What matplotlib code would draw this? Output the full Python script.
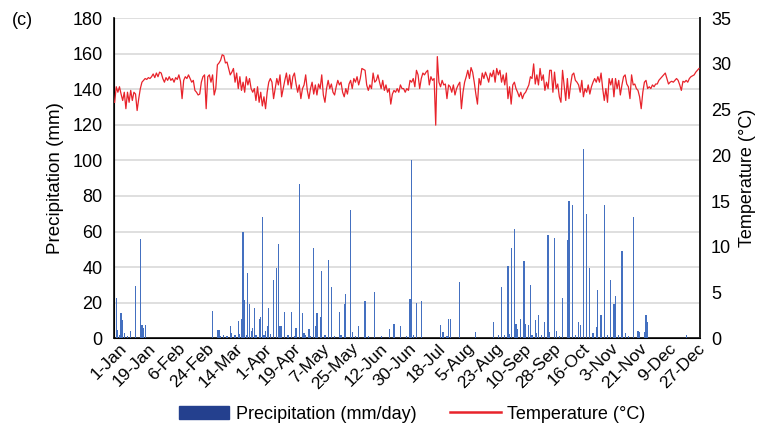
import numpy as np
import matplotlib
matplotlib.use("Agg")
import matplotlib.pyplot as plt
import matplotlib.transforms as mtrans
from matplotlib.patches import Patch
from matplotlib.lines import Line2D

plt.rcParams['font.family'] = ['Liberation Sans', 'DejaVu Sans']

# day-of-year (0 = 1-Jan) and daily rainfall (mm) for the wet days
rain_days = [1, 2, 3, 4, 5, 6, 8, 10, 13, 16, 17, 18, 19,
             61, 64, 65, 66, 68, 70, 72, 73, 75, 77, 78, 79, 80, 81, 82, 83, 84, 85, 86, 87, 88, 90,
             91, 92, 93, 94, 95, 96, 97, 99, 101, 102, 103, 104, 106, 108, 110, 112, 113, 115,
             117, 118, 119, 121, 122, 124, 125, 126, 128, 129, 131, 133, 135, 137, 140, 141, 143,
             144, 147, 148, 150, 152, 156, 158, 162, 166, 171, 174, 178,
             182, 184, 185, 186, 188, 191, 203, 204, 205, 207, 208, 209, 215, 225, 236,
             239, 241, 243, 245, 246, 247, 249, 250, 251, 253, 255, 256, 258, 259, 260, 262, 263,
             264, 266, 268, 270, 271, 274, 275, 277, 279, 282, 283, 285, 287, 289, 290, 292, 294,
             296, 298, 300, 301, 303, 305, 307, 309, 311, 312, 314, 316, 318, 320, 323, 326, 327,
             330, 331, 332, 356]
rain_mm = [22.4, 4.5, 2.0, 14.4, 10.0, 3.0, 1.5, 3.8, 29.6, 56.0, 7.6, 5.7, 7.6,
           15.2, 4.5, 4.5, 1.5, 2.0, 1.5, 6.8, 3.0, 2.0, 9.5, 2.5, 11.0, 60.0, 21.6, 2.0, 36.8, 19.0, 3.8, 6.0, 16.7, 2.0, 11.0,
           12.0, 68.0, 2.0, 4.0, 7.0, 17.0, 2.5, 33.0, 39.5, 53.0, 7.0, 7.0, 15.0, 2.0, 15.0, 1.5, 5.5, 87.0,
           14.0, 3.0, 2.0, 5.0, 1.5, 51.0, 7.0, 14.0, 12.0, 38.0, 2.0, 44.0, 29.0, 1.5, 15.0, 2.0, 19.0,
           25.0, 72.0, 3.5, 1.5, 7.0, 21.0, 1.5, 26.0, 1.5, 5.0, 8.0, 7.0,
           1.5, 22.0, 100.5, 2.0, 20.0, 21.0, 7.6, 3.5, 3.5, 1.5, 11.0, 10.6, 31.5, 3.5, 9.0,
           2.0, 29.0, 2.0, 40.5, 2.5, 51.0, 61.5, 8.0, 5.0, 11.0, 43.6, 8.0, 7.6, 30.0, 2.0, 10.0, 2.7,
           13.0, 2.0, 9.0, 58.0, 3.5, 56.5, 4.0, 1.5, 22.7, 55.0, 77.0, 74.7, 2.0, 9.0, 7.2, 106.5, 70.0,
           39.5, 2.7, 6.5, 27.0, 13.0, 74.7, 2.0, 32.6, 19.3, 23.5, 2.0, 49.0, 2.7, 1.5, 68.0, 4.0, 3.5,
           3.5, 13.0, 9.0, 2.0]

# daily mean temperature (deg C), 1-Jan .. 31-Dec
temp_jan_mar = [25.8, 27.5, 26.9, 27.5, 26.7, 26.0, 26.9, 25.1, 26.9, 25.8,
                27.1, 26.0, 26.9, 26.7, 24.9, 26.2, 27.3, 28.0, 28.2, 28.4,
                28.3, 28.5, 28.4, 28.6, 28.9, 28.5, 29.0, 28.6, 29.1, 29.0,
                28.4, 28.0, 28.5, 28.2, 28.6, 28.2, 28.4, 28.0, 28.5, 28.3,
                28.8, 28.1, 26.2, 28.2, 28.6, 28.4, 28.8, 28.4, 28.0, 28.2,
                27.1, 26.9, 26.6, 26.7, 28.0, 28.6, 28.8, 25.1, 28.6, 28.8,
                28.0, 28.8, 26.6, 27.3, 29.9, 30.1, 30.4, 31.0, 30.9, 30.1,
                30.2, 29.5, 28.8, 29.1, 29.5, 28.0, 29.0, 27.3, 28.6, 27.1,
                28.0, 26.9, 28.6, 27.7]
temp_mar_jun = [28.4, 27.3, 26.9, 27.3, 26.0, 27.5, 25.8, 26.9, 25.4, 26.4,
                25.1, 26.9, 28.0, 28.4, 28.0, 26.2, 27.3, 28.4, 27.7, 28.8,
                26.4, 27.3, 28.2, 29.0, 27.7, 28.8, 27.3, 28.6, 29.0, 27.8,
                26.9, 27.7, 26.2, 27.3, 27.7, 28.8, 27.1, 26.2, 27.3, 28.0,
                26.7, 27.7, 26.6, 27.8, 27.3, 28.8, 26.6, 25.8, 27.3, 28.2,
                27.3, 27.8, 26.9, 26.6, 27.5, 28.2, 27.7, 28.0, 26.9, 26.4,
                27.3, 26.7, 27.8, 28.2, 27.3, 28.4, 28.0, 28.6, 27.7, 28.4,
                29.5, 29.4, 29.3, 27.7, 27.1, 27.7, 27.3, 29.0, 28.0, 28.2,
                28.8, 28.0, 27.3, 28.2, 27.1, 27.7, 26.9, 27.3, 25.6, 26.7,
                27.1, 26.9, 27.3, 26.9, 27.7, 27.3]
temp_jun_sep = [27.3, 26.9, 27.3, 27.1, 28.2, 28.0, 28.4, 27.5, 29.3, 28.8,
                27.3, 28.4, 29.0, 28.8, 29.1, 29.3, 27.7, 28.6, 28.2, 28.4,
                23.3, 30.8, 28.0, 27.5, 28.2, 27.7, 27.8, 26.2, 27.7, 27.5,
                26.9, 27.7, 26.6, 27.3, 27.7, 28.0, 25.1, 26.9, 28.0, 28.6,
                29.3, 28.4, 29.6, 29.1, 28.0, 26.7, 25.6, 28.4, 27.7, 29.0,
                28.4, 29.1, 28.6, 28.0, 29.0, 28.6, 29.3, 28.0, 29.5, 28.8,
                29.3, 28.0, 28.8, 27.7, 29.0, 26.2, 27.5, 25.6, 27.7, 28.0,
                27.3, 26.9, 26.4, 26.9, 26.2, 26.7, 26.9, 27.3, 27.7, 28.6,
                28.4, 30.0, 27.8, 28.8, 27.7, 29.5, 28.2, 28.8, 27.1, 28.0,
                27.3, 29.3]
temp_sep_dec = [29.3, 26.9, 29.1, 27.3, 27.8, 26.4, 25.8, 29.3, 27.7, 26.0,
                28.4, 26.2, 27.7, 28.8, 29.0, 28.2, 28.0, 27.7, 26.9, 28.2,
                26.4, 27.3, 26.9, 27.7, 26.7, 27.5, 28.0, 28.4, 28.0, 28.6,
                28.0, 29.0, 27.3, 26.0, 27.3, 25.8, 28.4, 27.7, 28.4, 26.4,
                28.4, 27.3, 28.2, 26.6, 27.7, 28.6, 28.8, 27.8, 27.5, 26.2,
                28.8, 27.7, 27.8, 27.3, 27.1, 26.4, 25.1, 26.9, 28.0, 28.2,
                27.3, 27.5, 27.3, 27.7, 27.5, 27.8, 27.8, 28.2, 28.4, 28.6,
                28.8, 29.0, 28.4, 27.8, 28.0, 28.1, 28.0, 28.2, 28.4, 28.2,
                27.7, 27.1, 28.1, 28.0, 28.2, 28.0, 28.4, 28.6, 28.7, 28.8,
                29.1, 29.3, 29.5]

tick_labels = ['1-Jan', '19-Jan', '6-Feb', '24-Feb', '14-Mar', '1-Apr', '19-Apr',
               '7-May', '25-May', '12-Jun', '30-Jun', '18-Jul', '5-Aug', '23-Aug',
               '10-Sep', '28-Sep', '16-Oct', '3-Nov', '21-Nov', '9-Dec', '27-Dec']

temp = np.array(temp_jan_mar + temp_mar_jun + temp_jun_sep + temp_sep_dec)
days = np.arange(len(temp))
rain = np.zeros(len(temp))
rain[rain_days] = rain_mm

bar_col = '#4470C0'
line_col = '#E8232B'

fig = plt.figure(figsize=(7.59, 4.33), dpi=100)
ax = fig.add_axes([0.150, 0.219, 0.772, 0.739])
ax.bar(days, rain, width=0.75, color=bar_col, linewidth=0, zorder=3)
ax.set_xlim(-0.5, len(temp) - 0.5)
ax.set_ylim(0, 180)
ax.set_yticks(range(0, 181, 20))
ax.yaxis.grid(True, color='#D9D9D9', linewidth=1.2, zorder=0)
ax.set_axisbelow(True)
ax.set_xticks(range(0, len(temp), 18))
ax.set_xticklabels(tick_labels, rotation=45, ha='right', va='center', rotation_mode='anchor')
ax.tick_params(axis='x', length=0, pad=0, labelsize=12.5)
ax.tick_params(axis='y', length=0, pad=8, labelsize=13)
# nudge the slanted date labels like the original
shift = mtrans.ScaledTranslation(10 / 100, -8 / 100, fig.dpi_scale_trans)
for lab in ax.get_xticklabels():
    lab.set_transform(lab.get_transform() + shift)
ax.set_ylabel('Precipitation (mm)', fontsize=13.5, labelpad=6)
ax.spines['top'].set_visible(False)
for s in ['left', 'bottom', 'right']:
    ax.spines[s].set_color('#222222')
    ax.spines[s].set_linewidth(1.3)

ax2 = ax.twinx()
ax2.plot(days, temp, color=line_col, linewidth=0.9, zorder=4)
ax2.set_ylim(0, 35)
ax2.set_yticks(range(0, 36, 5))
ax2.tick_params(axis='y', length=0, pad=8, labelsize=13)
ax2.set_ylabel('Temperature (°C)', fontsize=13, labelpad=6)
ax2.spines['top'].set_visible(False)
ax2.spines['right'].set_color('#222222')
ax2.spines['right'].set_linewidth(1.3)

fig.text(0.016, 0.972, '(c)', fontsize=13, va='top')

handles = [Patch(color='#24408E'), Line2D([0], [0], color=line_col, linewidth=1.8)]
fig.legend(handles, ['Precipitation (mm/day)', 'Temperature (°C)'], loc='lower center',
           bbox_to_anchor=(0.543, -0.014), ncol=2, frameon=False, fontsize=13,
           handlelength=2.8, handleheight=0.8, columnspacing=1.9, handletextpad=0.35)

fig.savefig('out.png', dpi=100)
